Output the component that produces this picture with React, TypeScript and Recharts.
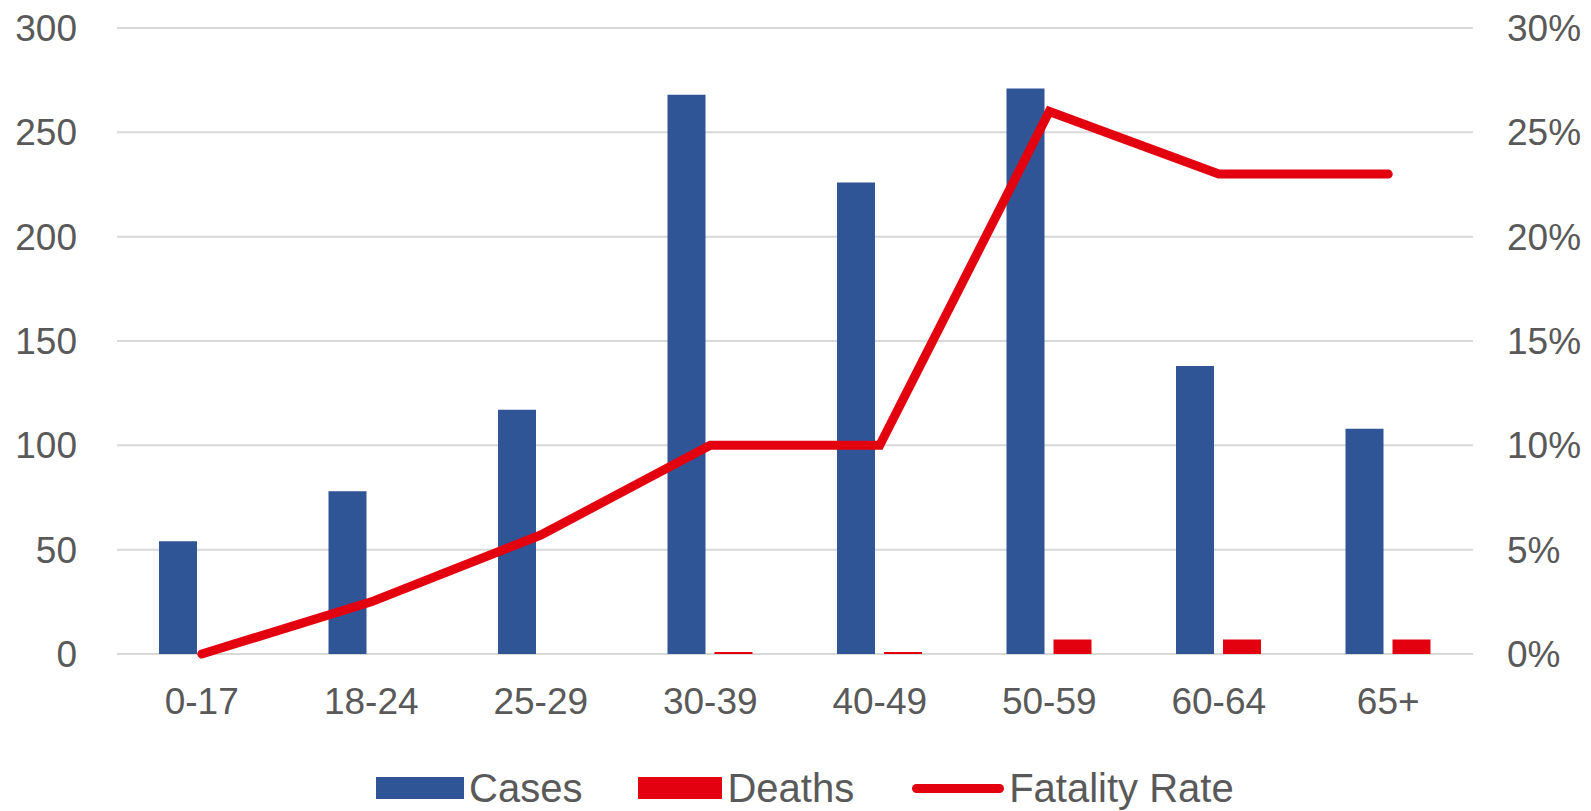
import React from "react";
import {
  ComposedChart,
  Bar,
  Line,
  XAxis,
  YAxis,
  CartesianGrid,
  Legend,
} from "recharts";

// age groups and values
const ageGroups = ["0-17", "18-24", "25-29", "30-39", "40-49", "50-59", "60-64", "65+"];
const cases = [54, 78, 117, 268, 226, 271, 138, 108];
const deaths = [0, 0, 0, 1, 1, 7, 7, 7];
const fatalityRate = [0, 2.5, 5.7, 10, 10, 26, 23, 23]; // percent

const leftTicks = [0, 50, 100, 150, 200, 250, 300];
const rightTicks = [0, 5, 10, 15, 20, 25, 30];

const data = ageGroups.map((group, i) => ({
  group,
  cases: cases[i],
  deaths: deaths[i],
  rate: fatalityRate[i],
}));

const BLUE = "#2F5597";
const RED = "#E3000F";
const TEXT = "#595959";
const FONT = "'Liberation Sans', Arial, sans-serif";

function ChartLegend() {
  const label = { marginLeft: 5, lineHeight: "40px" };
  return (
    <div
      style={{
        display: "flex",
        alignItems: "center",
        height: 40,
        paddingLeft: 376,
        fontFamily: FONT,
        fontSize: 40,
        color: TEXT,
        whiteSpace: "nowrap",
      }}
    >
      <span style={{ width: 88, height: 22, background: BLUE }} />
      <span style={label}>Cases</span>
      <span style={{ width: 84, height: 22, background: RED, marginLeft: 56 }} />
      <span style={label}>Deaths</span>
      <span
        style={{
          width: 92,
          height: 9,
          borderRadius: 5,
          background: RED,
          marginLeft: 58,
        }}
      />
      <span style={label}>Fatality Rate</span>
    </div>
  );
}

export default function App() {
  return (
    <div
      style={{
        position: "absolute",
        top: 0,
        left: 0,
        width: 1591,
        height: 811,
        overflow: "hidden",
        background: "#fff",
      }}
    >
      <ComposedChart
        width={1591}
        height={811}
        data={data}
        margin={{ top: 28, right: 0, bottom: 0, left: 0 }}
        barSize={38}
        barGap={9}
      >
        <CartesianGrid vertical={false} stroke="#D9D9D9" strokeWidth={2} yAxisId="left" />
        <XAxis
          dataKey="group"
          axisLine={false}
          tickLine={false}
          height={117}
          tickMargin={28}
          tick={{ fill: TEXT, fontSize: 37, fontFamily: FONT }}
        />
        <YAxis
          yAxisId="left"
          domain={[0, 300]}
          ticks={leftTicks}
          width={117}
          axisLine={false}
          tickLine={false}
          tickMargin={34}
          tick={{ fill: TEXT, fontSize: 37, fontFamily: FONT }}
        />
        <YAxis
          yAxisId="right"
          orientation="right"
          domain={[0, 30]}
          ticks={rightTicks}
          width={118}
          axisLine={false}
          tickLine={false}
          tickMargin={28}
          tickFormatter={(v) => `${v}%`}
          tick={{ fill: TEXT, fontSize: 37, fontFamily: FONT }}
        />
        <Legend
          verticalAlign="bottom"
          content={() => <ChartLegend />}
          wrapperStyle={{ bottom: 3, left: 0, width: 1591 }}
        />
        <Bar yAxisId="left" dataKey="cases" name="Cases" fill={BLUE} isAnimationActive={false} />
        <Bar yAxisId="left" dataKey="deaths" name="Deaths" fill={RED} isAnimationActive={false} />
        <Line
          yAxisId="right"
          type="linear"
          dataKey="rate"
          name="Fatality Rate"
          stroke={RED}
          strokeWidth={9}
          strokeLinecap="round"
          dot={false}
          activeDot={false}
          isAnimationActive={false}
        />
      </ComposedChart>
    </div>
  );
}
